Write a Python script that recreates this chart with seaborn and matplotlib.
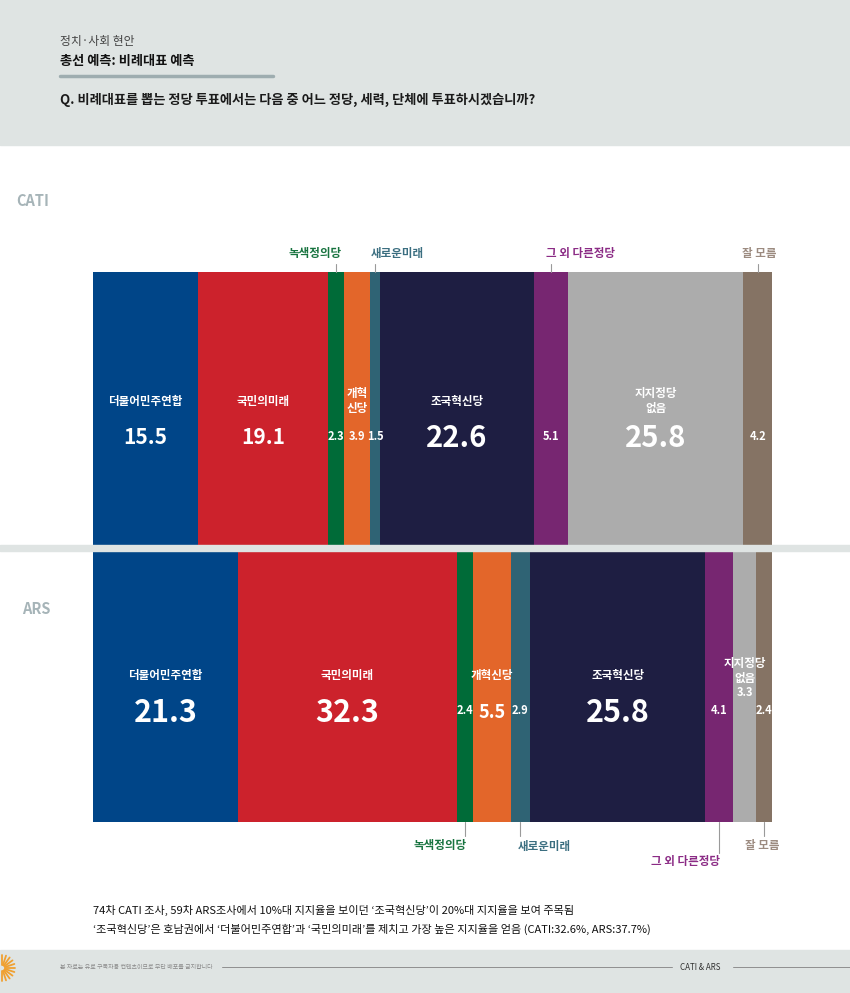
import numpy as np
import pandas as pd
import matplotlib.pyplot as plt
from matplotlib.patches import Rectangle
from matplotlib.lines import Line2D
import seaborn as sns

sns.set_theme(style="white")
plt.rcParams["font.family"] = ["Noto Sans CJK KR", "DejaVu Sans"]

# ---------------------------------------------------------------------------
# Data
# ---------------------------------------------------------------------------
SURVEYS = ["CATI", "ARS"]
PARTIES = ["더불어민주연합", "국민의미래", "녹색정의당", "개혁신당", "새로운미래",
           "조국혁신당", "그 외 다른정당", "지지정당 없음", "잘 모름"]
CATI_VALUES = [15.5, 19.1, 2.3, 3.9, 1.5, 22.6, 5.1, 25.8, 4.2]
ARS_VALUES = [21.3, 32.3, 2.4, 5.5, 2.9, 25.8, 4.1, 3.3, 2.4]
PARTY_COLORS = ["#004588", "#cc222c", "#006b38", "#e3662a", "#2f6374",
                "#1e1e42", "#772671", "#acacac", "#857364"]
LABEL_COLORS = {"녹색정의당": "#17733f", "새로운미래": "#3b6e80",
                "그 외 다른정당": "#8b2b85", "잘 모름": "#9c8b80"}

HEADER_SUB = "정치·사회 현안"
HEADER_TITLE = "총선 예측: 비례대표 예측"
QUESTION = "Q. 비례대표를 뽑는 정당 투표에서는 다음 중 어느 정당, 세력, 단체에 투표하시겠습니까?"
NOTE_1 = "74차 CATI 조사, 59차 ARS조사에서 10%대 지지율을 보이던 ‘조국혁신당’이 20%대 지지율을 보여 주목됨"
NOTE_2 = "‘조국혁신당’은 호남권에서 ‘더불어민주연합’과 ‘국민의미래’를 제치고 가장 높은 지지율을 얻음 (CATI:32.6%, ARS:37.7%)"
FOOTER_LEFT = "본 자료는 유료 구독자용 컨텐츠이므로 무단 배포를 금지합니다"
FOOTER_RIGHT = "CATI & ARS"

rows = []
for survey, vals in zip(SURVEYS, [CATI_VALUES, ARS_VALUES]):
    cum = np.cumsum(vals)
    for party, v, c in zip(PARTIES, vals, cum):
        rows.append({"survey": survey, "party": party, "value": v,
                     "start": c - v, "end": c, "mid": c - v / 2})
df = pd.DataFrame(rows)

# ---------------------------------------------------------------------------
# Figure layout (pixel helpers)
# ---------------------------------------------------------------------------
W, H = 850, 993
BG_GRAY = "#dfe4e3"
fig = plt.figure(figsize=(W / 100, H / 100), dpi=100)
fig.patch.set_facecolor("white")


def fx(px):
    return px / W


def fy(py):
    return 1 - py / H


# header band
fig.add_artist(Rectangle((0, fy(145)), 1, 145 / H, transform=fig.transFigure,
                         color=BG_GRAY, zorder=0))
fig.text(fx(60), fy(41), HEADER_SUB, fontsize=8.5, color="#444444", va="center")
fig.text(fx(60), fy(61), HEADER_TITLE, fontsize=9.5, color="#111111",
         fontweight="bold", va="center")
fig.add_artist(Line2D([fx(60), fx(273)], [fy(76), fy(76)], transform=fig.transFigure,
                      color="#9eadb0", lw=2.5))
fig.text(fx(60), fy(100), QUESTION, fontsize=9.5, color="#1a1a1a",
         fontweight="bold", va="center")

# survey names
fig.text(fx(16), fy(201), "CATI", fontsize=10.5, color="#a6b4b8", fontweight="heavy", va="center")
fig.text(fx(22), fy(609), "ARS", fontsize=10.5, color="#a6b4b8", fontweight="heavy", va="center")

# ---------------------------------------------------------------------------
# Stacked bars
# ---------------------------------------------------------------------------
X0, X1, Y0, Y1 = 93, 772, 272, 822
BAR_W = 273 / 277
ax = fig.add_axes([fx(X0), fy(Y1), (X1 - X0) / W, (Y1 - Y0) / H])
for i in reversed(range(len(PARTIES))):
    sub = df[df["party"] == PARTIES[i]]
    sns.barplot(data=sub, x="end", y="survey", order=SURVEYS, orient="h",
                color=PARTY_COLORS[i], saturation=1, width=BAR_W,
                linewidth=0, errorbar=None, ax=ax)
ax.set_xlim(0, 100)
ax.set_ylim(1 + BAR_W / 2, -BAR_W / 2)
ax.set_axis_off()


def dy(py):
    return -BAR_W / 2 + (py - Y0) / (Y1 - Y0) * (1 + BAR_W)


def dxoff(mid, px_off):
    return mid + px_off / (X1 - X0) * 100


# separator band between surveys
fig.add_artist(Rectangle((0, fy(551)), 1, 6 / H, transform=fig.transFigure,
                         color=BG_GRAY, zorder=5))


def seg(survey, party):
    return df[(df["survey"] == survey) & (df["party"] == party)].iloc[0]


def label(x, py, s, size, weight="bold", ls=1.15):
    ax.text(x, dy(py), s, ha="center", va="center", color="white",
            fontsize=size, fontweight=weight, linespacing=ls, zorder=6)


# CATI in-bar labels
for p in ["더불어민주연합", "국민의미래", "조국혁신당"]:
    label(seg("CATI", p)["mid"], 402, p, 8.3)
label(seg("CATI", "개혁신당")["mid"], 401, "개혁\n신당", 8.3)
label(seg("CATI", "지지정당 없음")["mid"], 401, "지지정당\n없음", 8.3)
for p in PARTIES:
    r = seg("CATI", p)
    if r["value"] >= 20:
        label(r["mid"], 438, f"{r['value']:.1f}", 21, "heavy")
    elif r["value"] >= 10:
        label(r["mid"], 438, f"{r['value']:.1f}", 15, "heavy")
    else:
        label(r["mid"], 437, f"{r['value']:.1f}", 8, "heavy")

# ARS in-bar labels
for p in ["더불어민주연합", "국민의미래", "조국혁신당", "개혁신당"]:
    label(seg("ARS", p)["mid"], 675, p, 8.3)
label(seg("ARS", "지지정당 없음")["mid"], 671, "지지정당\n없음", 8.3)
for p in PARTIES:
    r = seg("ARS", p)
    if r["value"] >= 20:
        label(r["mid"], 713, f"{r['value']:.1f}", 22, "heavy")
    elif r["value"] >= 5:
        label(r["mid"], 712, f"{r['value']:.1f}", 13, "heavy")
    elif p == "지지정당 없음":
        label(r["mid"], 693, f"{r['value']:.1f}", 8, "heavy")
    else:
        label(r["mid"], 711, f"{r['value']:.1f}", 8, "heavy")


# callouts for the thin segments
def callout(survey, party, text_py, line_py, ha, px_off):
    r = seg(survey, party)
    bar_edge = Y0 if survey == "CATI" else Y1
    ax.plot([r["mid"], r["mid"]], [dy(line_py), dy(bar_edge)], color="#9a9a9a",
            lw=0.8, clip_on=False, zorder=6)
    ax.text(dxoff(r["mid"], px_off), dy(text_py), party, ha=ha, va="center",
            color=LABEL_COLORS[party], fontsize=8.3, fontweight="bold", clip_on=False)


callout("CATI", "녹색정의당", 253, 264, "right", 6)
callout("CATI", "새로운미래", 253, 264, "left", -4)
callout("CATI", "그 외 다른정당", 253, 264, "left", -5)
callout("CATI", "잘 모름", 253, 264, "center", 2)
callout("ARS", "녹색정의당", 846, 836, "right", 2)
callout("ARS", "새로운미래", 846, 836, "left", -3)
callout("ARS", "그 외 다른정당", 862, 853, "right", 1)
callout("ARS", "잘 모름", 846, 836, "center", -2)

# notes
fig.text(fx(93), fy(910), NOTE_1, fontsize=8, color="#111111", fontweight="medium", va="center")
fig.text(fx(93), fy(929), NOTE_2, fontsize=8, color="#111111", fontweight="medium", va="center")

# footer
fig.add_artist(Rectangle((0, 0), 1, (H - 950) / H, transform=fig.transFigure,
                         color=BG_GRAY, zorder=0))
fig.text(fx(60), fy(967), FOOTER_LEFT, fontsize=4.3, color="#8a8a8a", va="center")
fig.add_artist(Line2D([fx(222), fx(672)], [fy(967), fy(967)], transform=fig.transFigure,
                      color="#8f8f8f", lw=0.7))
fig.text(fx(680), fy(967), FOOTER_RIGHT, fontsize=5.8, color="#333333", va="center")
fig.add_artist(Line2D([fx(733), fx(850)], [fy(967), fy(967)], transform=fig.transFigure,
                      color="#8f8f8f", lw=0.7))
for a in np.linspace(-90, 90, 11):
    t = np.deg2rad(a)
    cx, cy = 2, 968
    fig.add_artist(Line2D([fx(cx + 3 * np.cos(t)), fx(cx + 13 * np.cos(t))],
                          [fy(cy + 3 * np.sin(t)), fy(cy + 13 * np.sin(t))],
                          transform=fig.transFigure, color="#f0a030", lw=1.3))

fig.savefig("out.png", dpi=100)
